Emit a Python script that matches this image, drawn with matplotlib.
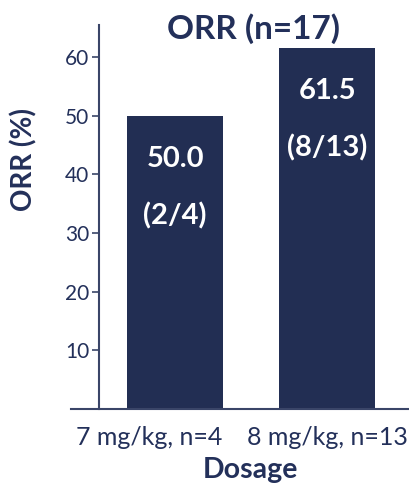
import matplotlib
matplotlib.use("Agg")
from matplotlib import pyplot as plt
from matplotlib import transforms

# ORR by dose level
doses = ['7 mg/kg, n=4', '8 mg/kg, n=13']
orr = [50.0, 61.5]
responders = ['(2/4)', '(8/13)']

navy = '#222e53'
ink = '#23305a'
line = '#3a4568'

plt.rcParams['font.family'] = ['Lato', 'DejaVu Sans']

fig = plt.figure(figsize=(4.10, 4.86), dpi=100)
ax = fig.add_axes([71/410, 1 - 409/486, 339/410, 384/486])

x = range(len(doses))
bars = ax.bar(x, orr, width=0.63, color=navy, zorder=2)

for xi, v, r in zip(x, orr, responders):
    ax.text(xi, v - 7.3, f'{v:.1f}', ha='center', va='center',
            color='white', fontsize=21, fontweight='bold')
    ax.text(xi, v - 17.0, r, ha='center', va='center',
            color='white', fontsize=21, fontweight='bold')

ax.set_xlim(-0.684, 1.545)
ax.set_ylim(0, 65.5)
ax.set_yticks([10, 20, 30, 40, 50, 60])
ax.set_xticks(list(x))
ax.set_xticklabels(doses)
ax.tick_params(axis='x', length=0, pad=12, labelsize=18, labelcolor=ink)
ax.tick_params(axis='y', length=5, width=1.2, color=line, pad=2,
               labelsize=15, labelcolor=ink)

# first dose label sits further left
lab = ax.get_xticklabels()[0]
lab.set_transform(lab.get_transform() +
                  transforms.ScaledTranslation(-26/100, 0, fig.dpi_scale_trans))

for side in ['top', 'right']:
    ax.spines[side].set_visible(False)
ax.spines['left'].set_position(('data', -0.5))
ax.spines['left'].set_color(line)
ax.spines['left'].set_linewidth(1.5)
ax.spines['bottom'].set_color(line)
ax.spines['bottom'].set_linewidth(1.5)

ax.set_title('ORR (n=17)', fontsize=24, fontweight='bold', color=ink,
             x=0.537, y=1.0, pad=-10)
ax.set_xlabel('Dosage', fontsize=20.5, fontweight='bold', color=ink)
ax.xaxis.set_label_coords(0.529, -0.125)
ax.set_ylabel('ORR (%)', fontsize=20, fontweight='bold', color=ink)
ax.yaxis.set_label_coords(-0.10, 0.65)

fig.savefig('out.png', dpi=100)
